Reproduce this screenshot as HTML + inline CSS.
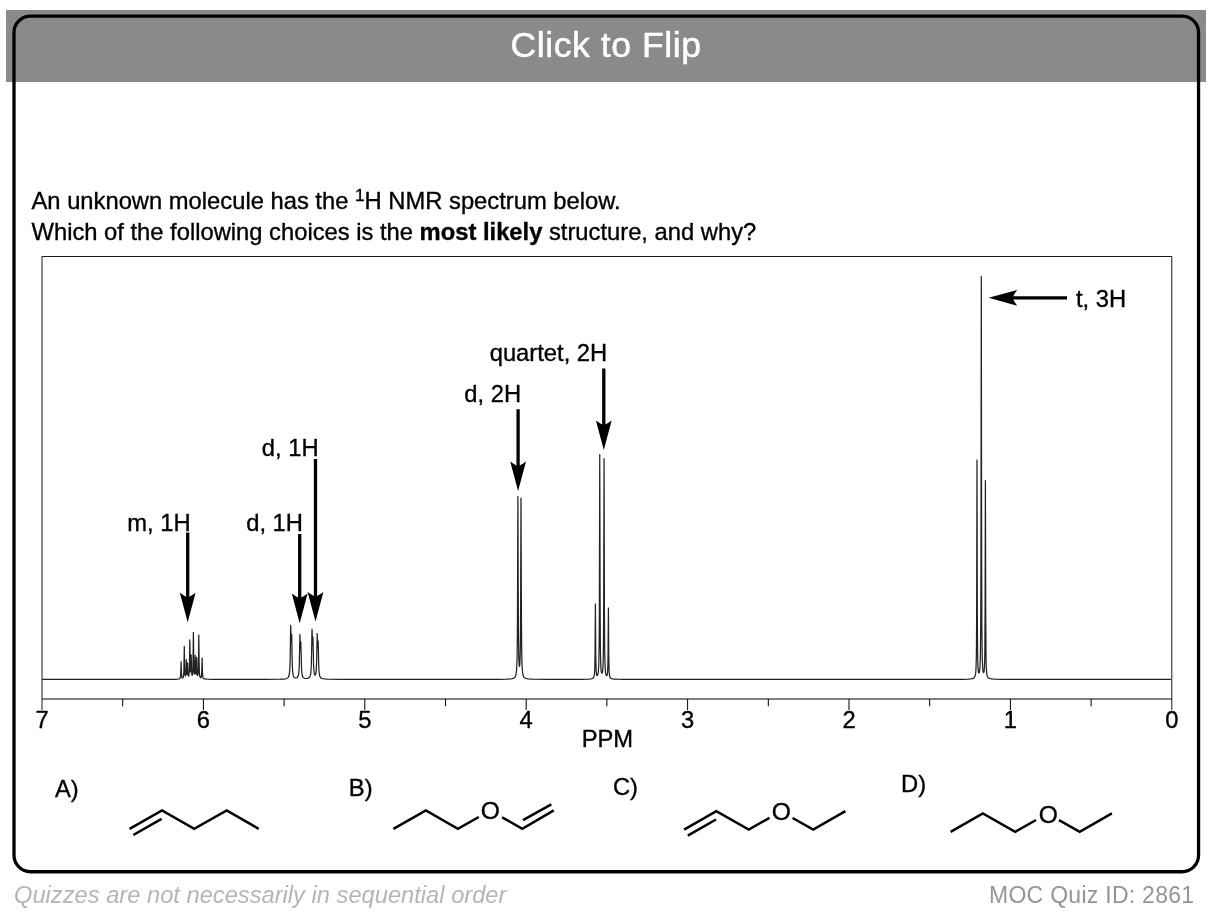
<!DOCTYPE html>
<html lang="en"><head><meta charset="utf-8"><title>MOC Quiz 2861</title>
<style>
html,body{margin:0;padding:0;background:#fff}
body{width:1220px;height:914px;position:relative;overflow:hidden;font-family:"Liberation Sans",Arial,Helvetica,sans-serif}
.band{position:absolute;left:6px;top:10px;width:1200px;height:72px;background:#8a8a8a}
.flip{position:absolute;left:6px;top:10px;width:1200px;height:72px;line-height:72px;text-align:center;color:#fff;font-size:35.6px;letter-spacing:0.55px;-webkit-text-stroke:0.5px #fff;white-space:nowrap;margin-top:-0.7px}
.card{position:absolute;left:12px;top:14px;width:1182px;height:853px;border:3px solid #000;border-radius:18px}
.fl{position:absolute;left:14px;top:880.5px;font-size:23.7px;line-height:28px;font-style:italic;color:#b5b5b5;white-space:nowrap}
.fr{position:absolute;right:25.6px;top:881px;font-size:23px;letter-spacing:0.28px;line-height:28px;color:#959595;white-space:nowrap}
</style></head><body>
<div class="band"></div>
<div class="flip">Click to Flip</div>
<svg width="1220" height="914" style="position:absolute;left:0;top:0"><rect x="14.0" y="16.1" width="1184.55" height="855.65" rx="16.5" ry="16.5" fill="none" stroke="#000" stroke-width="3.3"/></svg>
<svg width="1220" height="914" viewBox="0 0 1220 914" style="position:absolute;left:0;top:0">
<g fill="none" stroke="#000" stroke-width="1">
<path d="M42 710V256.5H1171.8V710" stroke="#1a1a1a"/>
<path d="M42 699H1171.8"/>
<path d="M122.70 699v7.3M203.40 699v11M284.10 699v7.3M364.80 699v11M445.50 699v7.3M526.20 699v11M606.90 699v7.3M687.60 699v11M768.30 699v7.3M849.00 699v11M929.70 699v7.3M1010.40 699v11M1091.10 699v7.3"/>
</g>
<path d="M42 679.4 L166 679.36 L175.8 679.27 L177.85 679.17 L179 678.99 L179.65 678.7 L180.05 678.24 L180.35 677.42 L180.55 676.17 L180.8 672.02 L181.1 661.8 L181.45 673.16 L181.75 676.68 L182.1 677.77 L182.35 677.99 L182.65 677.99 L182.9 677.81 L183.15 677.39 L183.5 676 L183.75 673.33 L183.9 669.78 L184.3 646.5 L184.65 667.7 L184.8 672.05 L185.05 675.03 L185.25 675.85 L185.35 675.99 L185.45 675.97 L185.65 675.39 L185.8 674.23 L186 670.47 L186.3 659.6 L186.6 670.17 L186.85 673.95 L186.95 674.3 L187.05 674.19 L187.25 672.33 L187.6 662.9 L188.05 674.28 L188.35 676.03 L188.55 676.21 L188.8 675.77 L189.15 673.28 L189.4 667.49 L189.8 639.9 L190.1 661.99 L190.35 670.39 L190.45 671.54 L190.6 671.97 L190.8 670.11 L191.2 655 L191.6 671.18 L191.85 674.42 L192 675.12 L192.2 675.36 L192.45 674.79 L192.65 673.39 L192.95 667.34 L193.4 632.3 L193.8 665.11 L193.95 669.99 L194.2 673.31 L194.35 673.95 L194.45 673.99 L194.5 673.9 L194.75 671.85 L195.2 655.3 L195.55 669.88 L195.8 673.65 L195.9 674.09 L196 674.15 L196.05 674.04 L196.3 671.63 L196.7 657.4 L197 669.42 L197.2 673.57 L197.35 674.86 L197.55 675.51 L197.7 675.51 L197.8 675.3 L198 674.3 L198.25 670.95 L198.4 666.25 L198.8 635 L199.1 660.86 L199.35 671.33 L199.5 673.87 L199.75 675.99 L200.05 677.11 L200.25 677.48 L200.5 677.72 L200.7 677.77 L200.9 677.69 L201.2 677.22 L201.45 676.12 L201.6 674.67 L201.8 670.32 L202.1 658 L202.45 671.96 L202.7 675.98 L202.95 677.44 L203.25 678.19 L203.7 678.67 L204.45 678.98 L207.05 679.24 L213.45 679.34 L265.1 679.35 L280.3 679.21 L283.7 679.05 L285.8 678.77 L286.75 678.49 L287.45 678.13 L288.05 677.61 L288.5 676.94 L288.85 676.11 L289.15 674.97 L289.6 671.67 L289.9 666.89 L290.15 658.91 L290.7 625.3 L291.2 642.26 L291.35 640.72 L291.55 634.97 L291.6 634.34 L291.65 634.56 L291.7 635.72 L292.2 662.12 L292.4 667.61 L292.65 671.49 L293 674.31 L293.5 676.21 L293.8 676.82 L294.2 677.35 L294.7 677.72 L295.25 677.94 L295.95 678 L296.65 677.87 L297.25 677.52 L297.7 677.03 L298.05 676.37 L298.35 675.46 L298.8 672.77 L299.1 668.83 L299.35 662.26 L299.9 634.5 L300.4 648.5 L300.55 647.21 L300.75 642.43 L300.8 641.91 L300.85 642.09 L301.5 667.55 L301.85 672.76 L302.3 675.55 L302.8 676.91 L303.45 677.74 L304.45 678.28 L305.8 678.5 L307.5 678.39 L308.75 677.95 L309.2 677.62 L309.6 677.17 L310.2 675.94 L310.6 674.29 L310.9 671.98 L311.3 665.19 L311.55 655.57 L312 629.2 L312.1 630.43 L312.35 641.57 L312.5 644.66 L312.65 643.18 L312.85 637.77 L312.9 637.17 L312.95 637.35 L313.55 664.27 L313.85 670.12 L314.3 673.68 L314.55 674.54 L314.85 675.05 L315 675.14 L315.2 675.11 L315.5 674.72 L315.95 673.01 L316.3 669.68 L316.7 659.55 L317.2 633.5 L317.7 647.71 L317.85 646.38 L318.05 641.49 L318.1 640.95 L318.15 641.14 L318.2 642.13 L318.7 664.57 L318.9 669.25 L319.2 673.04 L319.65 675.67 L320.25 677.18 L320.65 677.7 L321.15 678.12 L321.8 678.46 L322.6 678.71 L324.55 679 L327.55 679.18 L340.3 679.34 L485.1 679.37 L499.45 679.31 L506.75 679.18 L510.85 678.91 L512.15 678.7 L513.2 678.39 L514.25 677.82 L515 677.03 L515.55 675.94 L516 674.34 L516.35 672.1 L516.6 669.4 L517 660.27 L517.25 646.43 L517.45 622.36 L517.9 496.5 L518.25 600.53 L518.45 635.38 L518.8 657.99 L519.05 663.69 L519.35 666.2 L519.45 666.36 L519.55 666.22 L519.7 665.41 L520 660.93 L520.25 651.7 L520.4 640.88 L520.65 601.15 L521 498 L521.4 613.37 L521.65 646.68 L521.9 660.41 L522.2 667.94 L522.65 672.92 L523 674.81 L523.4 676.09 L523.8 676.89 L524.35 677.57 L525 678.06 L525.8 678.43 L526.85 678.72 L528.15 678.92 L532.05 679.18 L548.25 679.35 L581.6 679.29 L589.15 679.08 L591.1 678.86 L592.35 678.52 L593 678.16 L593.45 677.7 L593.8 677.07 L594.1 676.14 L594.5 673.38 L594.75 669.06 L595.05 653.42 L595.4 604 L595.75 653.14 L595.9 663.33 L596.15 670.63 L596.4 673.51 L596.7 674.96 L596.9 675.37 L597.15 675.53 L597.45 675.34 L597.7 674.87 L598.1 673.31 L598.4 670.98 L598.8 663.95 L599.15 645.33 L599.35 615.54 L599.75 454.5 L600.05 586.52 L600.3 639.83 L600.5 655.68 L600.8 665.86 L601 669.09 L601.25 671.38 L601.55 672.77 L601.85 673.25 L602.05 673.19 L602.2 672.93 L602.5 671.77 L602.75 669.79 L602.95 667.01 L603.25 658.47 L603.45 645.62 L603.7 604 L604.05 458.6 L604.45 616.7 L604.65 645.94 L604.95 662.72 L605.35 670.6 L605.65 673.13 L606 674.69 L606.25 675.28 L606.55 675.62 L606.8 675.6 L607.05 675.25 L607.4 673.76 L607.65 671.04 L607.9 664.14 L608.05 654.5 L608.4 608 L608.75 654.77 L609.05 669.58 L609.3 673.67 L609.65 676.08 L610.15 677.47 L610.5 677.94 L611 678.34 L612.2 678.78 L614.2 679.05 L617.45 679.21 L622.8 679.3 L718.3 679.4 L953.65 679.35 L962.9 679.27 L968.15 679.12 L971.25 678.84 L973.1 678.36 L974 677.79 L974.65 676.98 L975.15 675.75 L975.5 674.13 L975.8 671.56 L976 668.53 L976.3 658.89 L976.5 643.04 L976.65 616.58 L977 460 L977.3 601.73 L977.45 635.85 L977.65 655.36 L977.85 663.9 L978.1 668.94 L978.45 671.91 L978.65 672.63 L978.9 672.94 L979.05 672.87 L979.2 672.63 L979.45 671.78 L979.85 668.76 L980.15 663.81 L980.4 655.46 L980.75 622.81 L980.95 564.49 L981.3 276.6 L981.6 537.78 L981.85 622.79 L982.05 646.32 L982.3 659.49 L982.7 668.09 L983 670.84 L983.35 672.32 L983.5 672.56 L983.65 672.6 L983.9 672.16 L984.15 670.88 L984.35 668.82 L984.65 661.85 L984.85 650.45 L985.1 608.83 L985.4 480.6 L985.7 609.19 L986 654.99 L986.25 666.08 L986.6 672.17 L986.85 674.22 L987.15 675.66 L987.55 676.76 L988.1 677.59 L988.65 678.06 L989.4 678.44 L990.35 678.71 L991.6 678.92 L995.35 679.17 L1002 679.3 L1033.35 679.38 L1171 679.4" fill="none" stroke="#222" stroke-width="1.25" stroke-linejoin="round"/>
<g font-family="'Liberation Sans',Arial,Helvetica,sans-serif" font-size="23.75" fill="#000" stroke="#000" stroke-width="0.35" stroke-linejoin="round">
<g text-anchor="middle">
<text x="42.00" y="727.6">7</text>
<text x="203.40" y="727.6">6</text>
<text x="364.80" y="727.6">5</text>
<text x="526.20" y="727.6">4</text>
<text x="687.60" y="727.6">3</text>
<text x="849.00" y="727.6">2</text>
<text x="1010.40" y="727.6">1</text>
<text x="1171.80" y="727.6">0</text>
<text x="607.4" y="747">PPM</text>
</g>
<text x="190.6" y="530.5" text-anchor="end">m, 1H</text>
<text x="303" y="531.1" text-anchor="end">d, 1H</text>
<text x="318.6" y="456.4" text-anchor="end">d, 1H</text>
<text x="521.1" y="401.8" text-anchor="end">d, 2H</text>
<text x="607.2" y="361.1" text-anchor="end">quartet, 2H</text>
<text x="1076.0" y="306.7" text-anchor="start">t, 3H</text>
<text x="31.5" y="209.4">An unknown molecule has the <tspan font-size="17.3" dy="-8.9">1</tspan><tspan dy="8.9">H NMR spectrum below.</tspan></text>
<text x="31.5" y="240.0">Which of the following choices is the <tspan font-weight="bold">most likely</tspan> structure, and why?</text>
<text x="54.9" y="797.2">A)</text>
<text x="348.8" y="796.4">B)</text>
<text x="612.9" y="794.8">C)</text>
<text x="901.0" y="792.0">D)</text>
<text x="490.40000000000003" y="818.9499999999999" text-anchor="middle" font-size="24.6">O</text>
<text x="781.3000000000001" y="819.9499999999999" text-anchor="middle" font-size="24.6">O</text>
<text x="1048.3" y="822.55" text-anchor="middle" font-size="24.6">O</text>
</g>
<g fill="#000">
<path d="M186.05 532.50H189.35V596.70Q191.65 595.50 195.60 592.70L187.70 622.30L179.80 592.70Q183.75 595.50 186.05 596.70Z"/>
<path d="M298.05 534.00H301.35V597.60Q303.65 596.40 307.60 593.60L299.70 623.20L291.80 593.60Q295.75 596.40 298.05 597.60Z"/>
<path d="M313.85 459.00H317.15V596.00Q319.45 594.80 323.40 592.00L315.50 621.60L307.60 592.00Q311.55 594.80 313.85 596.00Z"/>
<path d="M516.45 409.30H519.75V465.40Q522.05 464.20 526.00 461.40L518.10 491.00L510.20 461.40Q514.15 464.20 516.45 465.40Z"/>
<path d="M602.15 368.40H605.45V424.40Q607.75 423.20 611.70 420.40L603.80 450.00L595.90 420.40Q599.85 423.20 602.15 424.40Z"/>
<path d="M1067.00 296.15V299.45H1013.20Q1014.40 301.73 1017.20 305.65L988.60 297.80L1017.20 289.95Q1014.40 293.88 1013.20 296.15Z"/>
</g>
<g fill="none" stroke="#000" stroke-width="2.5" stroke-linecap="butt" stroke-linejoin="miter">
<path d="M129.6 828.8 L162.0 810.4 L194.2 828.8 L226.7 810.4 L258.7 828.8"/>
<path d="M133.3 835.0 L161.6 818.9"/>
<path d="M393.4 828.8 L425.9 810.4 L457.9 828.8 L478.8 817.0"/>
<path d="M502.1 817.3 L522.3 828.8 L553.8 810.4"/>
<path d="M523.0 820.2 L551.3 804.3"/>
<path d="M684.1 829.6 L716.3 811.1 L748.8 829.6 L769.5 817.8"/>
<path d="M687.8 835.7 L716.0 819.5"/>
<path d="M792.6 818.0 L813.2 829.6 L845.4 811.1"/>
<path d="M950.6 831.8 L982.8 813.4 L1015.2 831.8 L1036.0 820.0"/>
<path d="M1059.0 820.2 L1079.7 831.8 L1111.9 813.4"/>
</g>
</svg>
<div class="fl">Quizzes are not necessarily in sequential order</div>
<div class="fr">MOC Quiz ID: 2861</div>
</body></html>
